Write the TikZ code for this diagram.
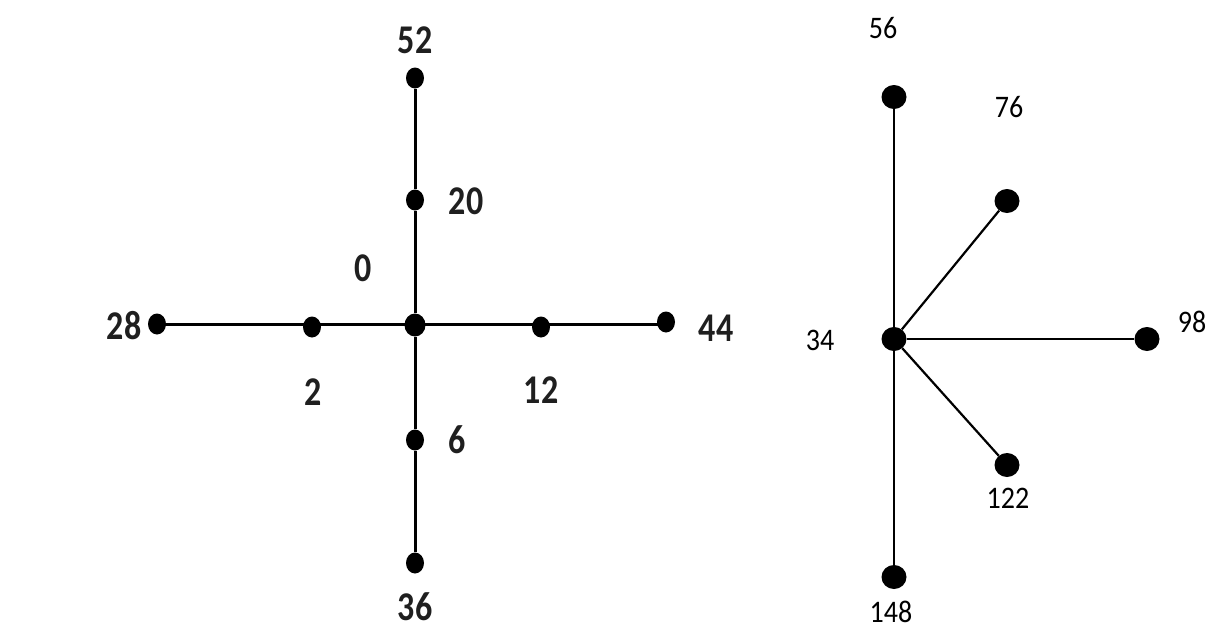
\documentclass[tikz,border=0pt]{standalone}
\usepackage{fontspec}
\usepackage{graphicx}
\setmainfont{Carlito}
\usetikzlibrary{shapes.geometric}
\newcommand{\lft}[1]{\scalebox{1}[1.2]{#1}}
\newcommand{\rgt}[1]{\scalebox{1}[1.12]{#1}}
\begin{document}
\begin{tikzpicture}[x=1pt,y=-1pt,
  ldot/.style={ellipse,fill=black,draw=none,minimum width=18pt,minimum height=21pt,inner sep=0pt},
  lcdot/.style={ldot,minimum width=21pt,minimum height=23pt},
  rdot/.style={ellipse,fill=black,draw=none,minimum width=25pt,minimum height=24pt,inner sep=0pt},
  llab/.style={font=\fontsize{34}{40}\selectfont\bfseries,inner sep=0pt,text=black!88},
  rlab/.style={font=\fontsize{28}{32}\selectfont,inner sep=0pt},
  ledge/.style={line width=3pt,black},
  redge/.style={line width=2.2pt,black}]
\useasboundingbox (0,0) rectangle (1211,643);
% left graph
\node[lcdot] (c) at (415,325) {};
\node[ldot] (n20) at (415,200) {};
\node[ldot] (n52) at (415,78) {};
\node[ldot] (n2) at (312,327) {};
\node[ldot] (n28) at (157,324) {};
\node[ldot] (n12) at (541,327) {};
\node[ldot] (n44) at (666,322) {};
\node[ldot] (n6) at (415,440) {};
\node[ldot] (n36) at (415,563) {};
\draw[ledge] (n52) -- (n20) -- (c) -- (n6) -- (n36);
\draw[ledge] (n28.center) -- (n28.center -| n44);
\node[llab] (l52) at (415,40) {\lft{52}};
\node[llab] (l20) at (466,201) {\lft{20}};
\node[llab] (l0) at (363,268) {\lft{0}};
\node[llab] (l28) at (124,326) {\lft{28}};
\node[llab] (l44) at (716,328) {\lft{44}};
\node[llab] (l2) at (313,392) {\lft{2}};
\node[llab] (l12) at (541,390) {\lft{12}};
\node[llab] (l6) at (457,440) {\lft{6}};
\node[llab] (l36) at (415,607) {\lft{36}};
% right graph
\node[rdot] (r34) at (894,339) {};
\node[rdot] (r56) at (894,97) {};
\node[rdot] (r76) at (1007,201) {};
\node[rdot] (r98) at (1147,339) {};
\node[rdot] (r122) at (1007,465) {};
\node[rdot] (r148) at (894,577) {};
\draw[redge] (r56) -- (r34) -- (r148);
\draw[redge] (r34) -- (r76);
\draw[redge] (r34) -- (r98);
\draw[redge] (r34) -- (r122);
\node[rlab] (s56) at (883,28) {\rgt{56}};
\node[rlab] (s76) at (1009,107) {\rgt{76}};
\node[rlab] (s98) at (1192,322) {\rgt{98}};
\node[rlab] (s34) at (820,340) {\rgt{34}};
\node[rlab] (s122) at (1008,498) {\rgt{122}};
\node[rlab] (s148) at (891,612) {\rgt{148}};
\end{tikzpicture}
\end{document}
